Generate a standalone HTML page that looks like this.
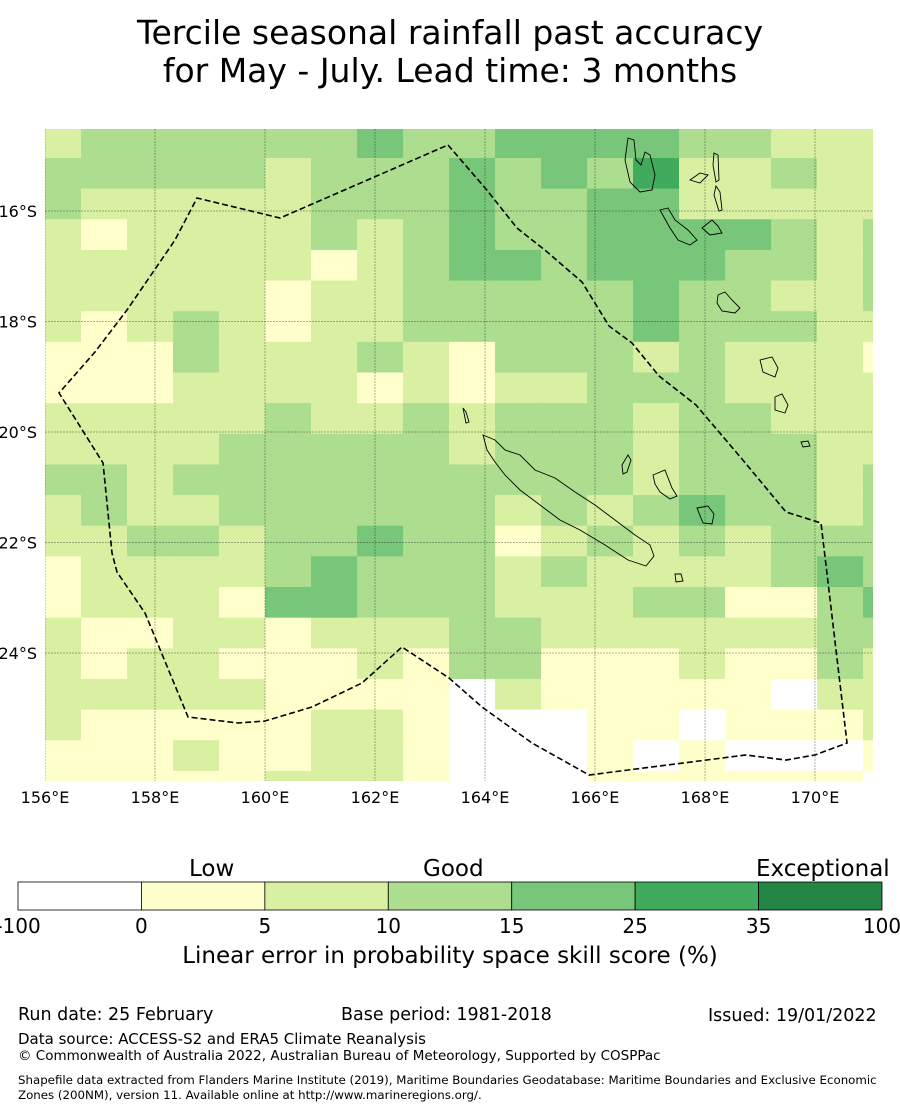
<!DOCTYPE html>
<html><head><meta charset="utf-8">
<style>
body{margin:0;background:#fff;width:900px;height:1110px;overflow:hidden;font-family:"Liberation Sans","DejaVu Sans",sans-serif;color:#000}
.t{position:absolute;white-space:nowrap}
</style></head><body>
<div class="t" style="left:0;width:900px;top:14px;text-align:center;font-size:33px;line-height:38px;font-family:'DejaVu Sans',sans-serif">Tercile seasonal rainfall past accuracy<br>for May - July. Lead time: 3 months</div>
<svg id="map" width="900" height="830" style="position:absolute;left:0;top:0" font-family="DejaVu Sans, sans-serif"></svg>
<div class="t" style="left:189px;top:856px;font-size:23px;font-family:'DejaVu Sans',sans-serif">Low</div>
<div class="t" style="left:423px;top:856px;font-size:23px;font-family:'DejaVu Sans',sans-serif">Good</div>
<div class="t" style="left:756px;top:856px;font-size:23px;font-family:'DejaVu Sans',sans-serif">Exceptional</div>
<svg id="cb" width="900" height="90" style="position:absolute;left:0;top:875px" font-family="DejaVu Sans, sans-serif"></svg>
<div class="t" style="left:0;width:900px;text-align:center;top:943px;font-size:23px;font-family:'DejaVu Sans',sans-serif">Linear error in probability space skill score (%)</div>
<div class="t" style="left:18px;top:1005px;font-size:17.5px;font-family:'DejaVu Sans',sans-serif">Run date: 25 February</div>
<div class="t" style="left:341px;top:1005px;font-size:17.5px;font-family:'DejaVu Sans',sans-serif">Base period: 1981-2018</div>
<div class="t" style="left:708px;top:1006px;font-size:17.5px;font-family:'DejaVu Sans',sans-serif">Issued: 19/01/2022</div>
<div class="t" style="left:18px;top:1030px;font-size:15px;font-family:'DejaVu Sans',sans-serif">Data source: ACCESS-S2 and ERA5 Climate Reanalysis</div>
<div class="t" style="left:18px;top:1048px;font-size:13.5px;font-family:'DejaVu Sans',sans-serif">© Commonwealth of Australia 2022, Australian Bureau of Meteorology, Supported by COSPPac</div>
<div class="t" style="left:18px;top:1073px;font-size:11.8px;line-height:15px;font-family:'DejaVu Sans',sans-serif">Shapefile data extracted from Flanders Marine Institute (2019), Maritime Boundaries Geodatabase: Maritime Boundaries and Exclusive Economic<br>Zones (200NM), version 11. Available online at http://www.marineregions.org/.</div>
<script>
// skill bins: 0:<0, 1:0-5, 2:5-10, 3:10-15, 4:15-25, 5:25-35, 6:35-100
const binColors=["#ffffff","#ffffcc","#d9f0a3","#addd8e","#78c679","#41ab5d","#238443"];
const binEdges=["-100","0","5","10","15","25","35","100"];
const lonTicks=[156,158,160,162,164,166,168,170];
const latTicks=[16,18,20,22,24];
const grid=[
"2333333433444433222",
"3333323334343522322",
"3222223334334422222",
"2122223234334444323",
"2222221234434443323",
"2222212233333433223",
"2123212233333433322",
"1113222321333232221",
"1112222121223332222",
"2222232232333233222",
"2222333332333233322",
"3323333333333233323",
"2322333333232343323",
"2233233433123232333",
"1222234333232222343",
"1222144333222331134",
"2112212223322222233",
"2122111213311121132",
"2222211110211111022",
"2111112210001101112",
"1112112210001010001",
"1111122210001111110"
];
const boundary=[[163.327,14.805],[164.018,15.602],[164.582,16.308],[165.109,16.724],[165.764,17.285],[166.255,18.081],[166.673,18.389],[167.164,18.986],[167.836,19.511],[168.673,20.489],[169.473,21.448],[170.109,21.647],[170.582,25.629],[170.0,25.846],[169.473,25.937],[168.745,25.846],[165.891,26.208],[164.855,25.629],[163.945,24.977],[163.345,24.452],[162.491,23.891],[161.764,24.543],[160.855,24.977],[160.0,25.231],[159.509,25.267],[158.6,25.158],[157.818,23.276],[157.309,22.534],[157.218,22.19],[157.055,20.561],[156.255,19.294],[156.909,18.552],[157.491,17.792],[158.364,16.525],[158.764,15.765],[160.273,16.127],[163.327,14.805]];
const NS="http://www.w3.org/2000/svg";
const X0=45,X1=873,Y0=129,Y1=781;
function x(lon){return 45+(lon-156)*55;}
function y(lat){return 211+(lat-16)*55.25;}
const lonStart=156.655-0.8364, lonStep=0.8364, latStart=15.04-0.5547, latStep=0.5547;
const svg=document.getElementById('map');
function el(t,a,p){const e=document.createElementNS(NS,t);for(const k in a)e.setAttribute(k,a[k]);(p||svg).appendChild(e);return e;}
const defs=el('defs',{});const cp=el('clipPath',{id:'clip'},defs);el('rect',{x:X0,y:Y0,width:X1-X0,height:Y1-Y0},cp);
const g=el('g',{'clip-path':'url(#clip)'});
grid.forEach((row,r)=>{[...row].forEach((v,c)=>{
 const xa=x(lonStart+c*lonStep),xb=x(lonStart+(c+1)*lonStep),ya=y(latStart+r*latStep),yb=y(latStart+(r+1)*latStep);
 const rc=el('rect',{x:xa,y:ya,width:xb-xa+0.5,height:yb-ya+0.5,fill:binColors[+v]},g);
 
 
});});
lonTicks.forEach(l=>{const ln=el('line',{x1:x(l),x2:x(l),y1:Y0,y2:Y1,stroke:'#000','stroke-opacity':0.3,'stroke-width':1,'stroke-dasharray':'2,1'},g);
 
 const t=el('text',{x:x(l),y:803,'text-anchor':'middle','font-size':16});t.textContent=l+'°E';
 });
latTicks.forEach(l=>{const ln=el('line',{x1:X0,x2:X1,y1:y(l),y2:y(l),stroke:'#000','stroke-opacity':0.3,'stroke-width':1,'stroke-dasharray':'2,1'},g);
 
 const t=el('text',{x:37,y:y(l)+6,'text-anchor':'end','font-size':16});t.textContent=l+'°S';
 });
// coastlines (approximate)
const coasts=[
"M483,435 L495,440 505,450 520,455 535,470 555,478 575,492 595,505 615,520 635,535 650,545 654,556 646,566 628,560 605,545 580,530 560,520 540,505 520,490 505,475 495,462 487,450Z",
"M628,138 L634,140 636,160 641,165 645,152 650,155 655,175 652,190 640,192 630,182 625,160Z",
"M660,210 L668,208 675,220 688,230 697,240 690,245 678,240 670,228Z",
"M702,228 L712,220 718,226 722,233 710,235Z","M690,180 L700,173 708,175 700,183Z",
"M714,153 L718,155 719,180 716,182 713,165Z","M716,186 L720,192 722,210 719,211 714,195Z",
"M718,295 L725,292 732,300 740,308 735,313 722,311 717,303Z",
"M760,360 L772,357 778,368 775,377 763,372Z","M775,397 L782,394 788,405 785,413 775,410Z",
"M801,442 L808,441 810,446 803,447Z","M653,475 L665,470 672,488 677,496 670,499 660,492 655,484Z",
"M622,465 L628,455 631,460 627,472 623,474Z","M697,508 L708,506 714,514 712,524 703,523Z",
"M675,574 L681,574 683,581 676,582Z","M463,408 L466,412 469,422 466,423Z"];
coasts.forEach(d=>{const p=el('path',{d:d,fill:'none',stroke:'#000','stroke-width':0.9},g);});
const bd=el('polyline',{points:boundary.map(p=>x(p[0])+','+y(p[1])).join(' '),fill:'none',stroke:'#000','stroke-width':1.6,'stroke-dasharray':'6,3'},g);


// colorbar
const cb=document.getElementById('cb');
const cbX0=18,cbW=864,segW=cbW/binColors.length;
binColors.forEach((c,i)=>{const r=document.createElementNS(NS,'rect');
 r.setAttribute('x',cbX0+i*segW);r.setAttribute('y',7);r.setAttribute('width',segW);r.setAttribute('height',28);r.setAttribute('fill',c);r.setAttribute('stroke','#000');r.setAttribute('stroke-width',0.8);
 
 
 cb.appendChild(r);});
binEdges.forEach((t,i)=>{const e=document.createElementNS(NS,'text');e.setAttribute('x',cbX0+i*segW);e.setAttribute('y',58);e.setAttribute('text-anchor','middle');e.setAttribute('font-size',20);e.textContent=t;
 
 
 cb.appendChild(e);});
</script>
</body></html>
